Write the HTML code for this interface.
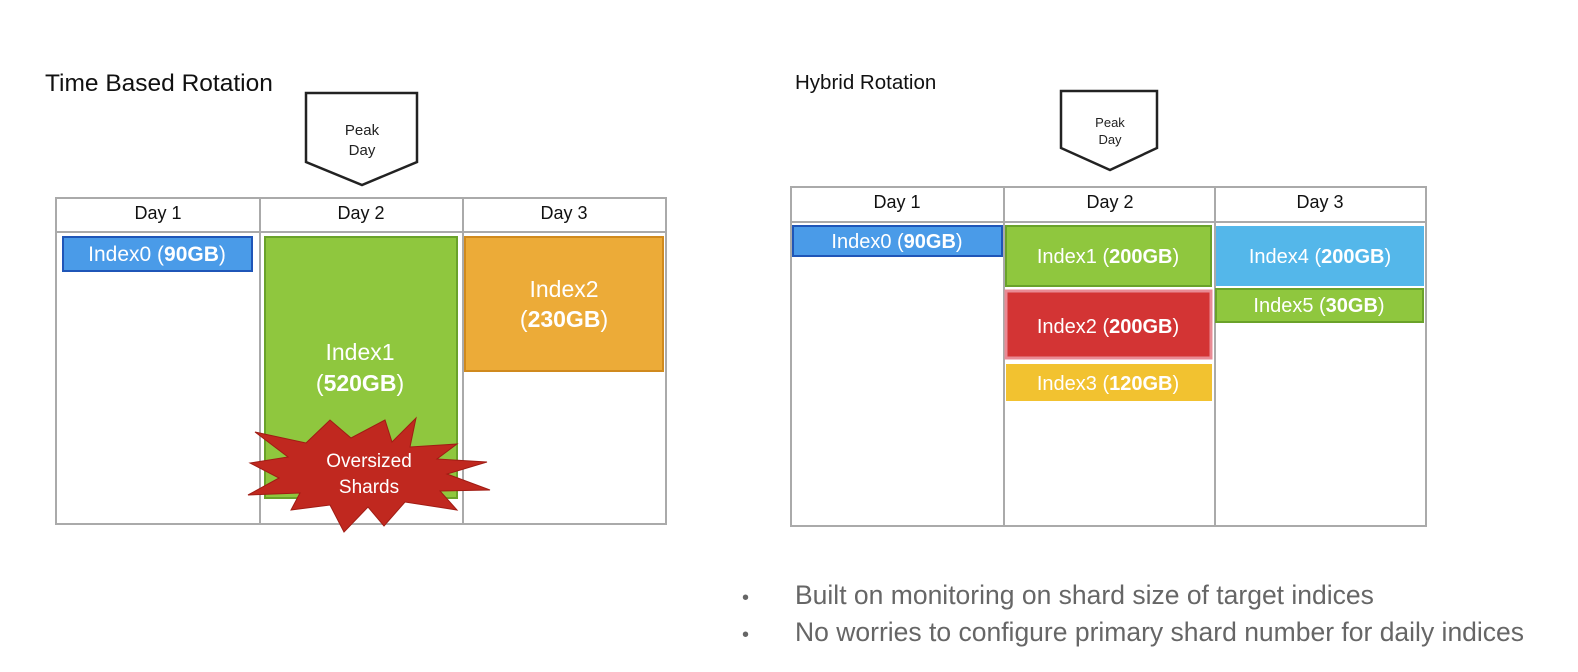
<!DOCTYPE html>
<html><head><meta charset="utf-8"><style>
body{margin:0;background:#fff;width:1578px;height:672px;overflow:hidden;font-family:"Liberation Sans",Arial,sans-serif}
svg{position:absolute;left:0;top:0}
</style></head><body>
<svg width="1578" height="672" viewBox="0 0 1578 672" font-family="Liberation Sans, Arial, sans-serif">
<text x="45" y="91" font-size="24.5" fill="#111">Time Based Rotation</text>
<text x="795" y="89" font-size="20.5" fill="#111">Hybrid Rotation</text>
<polygon points="306,93 417,93 417,162 362,185 306,162" fill="#fff" stroke="#222" stroke-width="2.5"/>
<text x="362" y="135" font-size="15" text-anchor="middle" fill="#222">Peak</text>
<text x="362" y="155" font-size="15" text-anchor="middle" fill="#222">Day</text>
<rect x="56" y="198" width="610" height="326" fill="#fff" stroke="#aaa" stroke-width="2"/>
<line x1="56" y1="232" x2="666" y2="232" stroke="#aaa" stroke-width="2"/>
<line x1="260" y1="198" x2="260" y2="524" stroke="#aaa" stroke-width="2"/>
<line x1="463" y1="198" x2="463" y2="524" stroke="#aaa" stroke-width="2"/>
<g font-size="18" text-anchor="middle" fill="#111">
<text x="158" y="219">Day 1</text><text x="361" y="219">Day 2</text><text x="564" y="219">Day 3</text></g>
<rect x="63" y="237" width="189" height="34" fill="#4a9be8" stroke="#1f56b8" stroke-width="2"/>
<text x="157" y="261" font-size="21" text-anchor="middle" fill="#fff">Index0 (<tspan font-weight="bold">90GB</tspan>)</text>
<rect x="265" y="237" width="192" height="261" fill="#8fc73e" stroke="#6aa22a" stroke-width="2"/>
<text x="360" y="360" font-size="23" text-anchor="middle" fill="#fff">Index1</text>
<text x="360" y="391" font-size="23" text-anchor="middle" fill="#fff">(<tspan font-weight="bold">520GB</tspan>)</text>
<rect x="465" y="237" width="198" height="134" fill="#ecab38" stroke="#d08a1e" stroke-width="2"/>
<text x="564" y="297" font-size="23" text-anchor="middle" fill="#fff">Index2</text>
<text x="564" y="327" font-size="23" text-anchor="middle" fill="#fff">(<tspan font-weight="bold">230GB</tspan>)</text>
<polygon points="255,432 306,443 330,420 351,438 385,420 392,442 416,418 410,447 457,444 437,459 487,462 447,474 490,490 440,491 457,510 405,502 384,526 368,507 344,532 330,505 291,510 300,493 248,495 279,478 250,463 288,457" fill="#c0281f" stroke="#a01c14" stroke-width="1"/>
<text x="369" y="467" font-size="19" text-anchor="middle" fill="#fff">Oversized</text>
<text x="369" y="493" font-size="19" text-anchor="middle" fill="#fff">Shards</text>
<polygon points="1061,91 1157,91 1157,148 1110,170 1061,148" fill="#fff" stroke="#222" stroke-width="2.5"/>
<text x="1110" y="127" font-size="13" text-anchor="middle" fill="#222">Peak</text>
<text x="1110" y="144" font-size="13" text-anchor="middle" fill="#222">Day</text>
<rect x="791" y="187" width="635" height="339" fill="#fff" stroke="#aaa" stroke-width="2"/>
<line x1="791" y1="222" x2="1426" y2="222" stroke="#aaa" stroke-width="2"/>
<line x1="1004" y1="187" x2="1004" y2="526" stroke="#aaa" stroke-width="2"/>
<line x1="1215" y1="187" x2="1215" y2="526" stroke="#aaa" stroke-width="2"/>
<g font-size="18" text-anchor="middle" fill="#111">
<text x="897" y="208">Day 1</text><text x="1110" y="208">Day 2</text><text x="1320" y="208">Day 3</text></g>
<rect x="793" y="226" width="209" height="30" fill="#4a9be8" stroke="#1f56b8" stroke-width="2"/>
<text x="897" y="248" font-size="20" text-anchor="middle" fill="#fff">Index0 (<tspan font-weight="bold">90GB</tspan>)</text>
<rect x="1006" y="226" width="205" height="60" fill="#8fc73e" stroke="#6aa22a" stroke-width="2"/>
<text x="1108" y="263" font-size="20" text-anchor="middle" fill="#fff">Index1 (<tspan font-weight="bold">200GB</tspan>)</text>
<rect x="1006" y="291" width="205" height="67" fill="#d33434" stroke="#e98a94" stroke-width="3"/>
<text x="1108" y="333" font-size="20" text-anchor="middle" fill="#fff">Index2 (<tspan font-weight="bold">200GB</tspan>)</text>
<rect x="1006" y="364" width="206" height="37" fill="#f2c230"/>
<text x="1108" y="390" font-size="20" text-anchor="middle" fill="#fff">Index3 (<tspan font-weight="bold">120GB</tspan>)</text>
<rect x="1216" y="226" width="208" height="60" fill="#54b7ea"/>
<text x="1320" y="263" font-size="20" text-anchor="middle" fill="#fff">Index4 (<tspan font-weight="bold">200GB</tspan>)</text>
<rect x="1216" y="289" width="207" height="33" fill="#8fc73e" stroke="#6aa22a" stroke-width="2"/>
<text x="1319" y="312" font-size="20" text-anchor="middle" fill="#fff">Index5 (<tspan font-weight="bold">30GB</tspan>)</text>
<g font-size="26.5" fill="#666">
<text x="742" y="604" font-size="20">•</text><text x="795" y="604">Built on monitoring on shard size of target indices</text>
<text x="742" y="641" font-size="20">•</text><text x="795" y="641">No worries to configure primary shard number for daily indices</text></g>
</svg>
</body></html>
